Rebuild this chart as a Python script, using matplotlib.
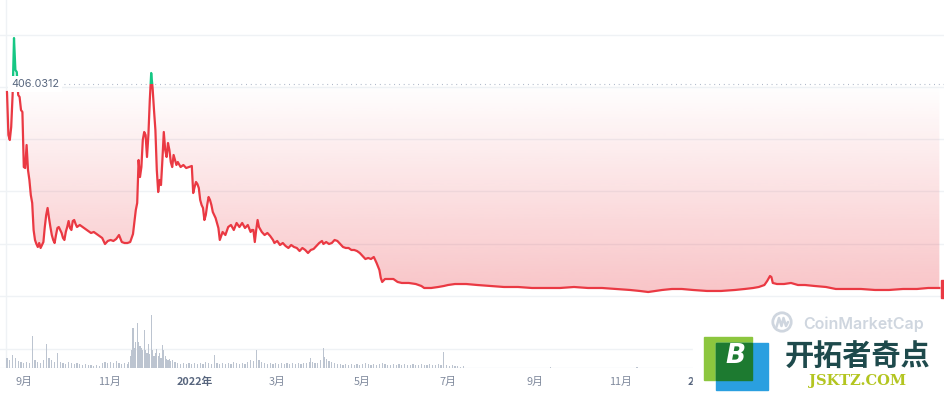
import numpy as np
import pandas as pd
import matplotlib
matplotlib.use("Agg")
import matplotlib.pyplot as plt
import matplotlib.dates as mdates
from matplotlib.patches import Rectangle, Circle
from matplotlib.lines import Line2D

plt.rcParams['font.family'] = ['Noto Sans CJK SC', 'DejaVu Sans']

# ---- data ----
start = pd.Timestamp('2021-08-20')
base_price = 406.0312

price_days = [0, 1, 2, 3, 4, 5, 6, 7, 8, 9, 10, 11, 12, 13, 14, 15, 16, 17, 18, 19,
              20, 21, 22, 23, 24, 25, 26, 27, 28, 29, 30, 31, 32, 33, 34, 35, 36, 37, 38, 39,
              40, 41, 42, 43, 44, 45, 46, 47, 48, 49, 50, 52, 54, 56, 58, 60, 62, 64, 66, 68,
              70, 72, 74, 76, 78, 80, 82, 84, 86, 88, 90, 91, 92, 93, 94, 95, 96, 97, 98, 99,
              100, 101, 102, 103, 104, 105, 106, 107, 108, 109, 110, 111, 112, 113, 114, 115, 116, 117, 118, 119,
              120, 121, 122, 124, 126, 128, 130, 132, 133, 134, 135, 136, 137, 138, 139, 140, 141, 142, 143, 144,
              145, 146, 147, 148, 149, 150, 151, 152, 153, 154, 156, 158, 160, 162, 164, 166, 168, 170, 172, 174,
              175, 176, 177, 178, 179, 180, 182, 184, 186, 188, 190, 191, 193, 195, 197, 199, 201, 203, 205, 207,
              209, 211, 213, 215, 217, 219, 221, 223, 225, 226, 228, 230, 232, 234, 236, 238, 240, 242, 244, 246,
              248, 250, 252, 254, 256, 258, 260, 262, 264, 266, 267, 268, 270, 273, 276, 279, 282, 287, 292, 296,
              298, 303, 308, 312, 315, 320, 328, 336, 345, 355, 365, 375, 385, 395, 405, 415, 425, 435, 445, 452,
              458, 463, 468, 475, 482, 490, 500, 510, 520, 527, 533, 537, 541, 543, 545, 546, 547, 550, 555, 560,
              565, 570, 577, 585, 592, 600, 610, 620, 630, 640, 650, 658, 666]
price = [390.0, 307.8, 298.3, 323.1, 384.3, 493.3, 432.1, 428.3, 384.3, 380.5, 355.6, 351.8, 246.6, 244.7, 288.7, 240.9, 221.8, 193.1, 177.8, 126.2,
         107.1, 99.4, 93.7, 101.3, 91.8, 97.5, 103.2, 131.9, 154.9, 168.3, 149.1, 131.9, 116.6, 107.1, 101.3, 116.6, 130.0, 131.9, 126.2, 120.5,
         110.9, 107.1, 122.4, 131.9, 143.4, 130.0, 126.2, 143.4, 145.3, 137.7, 131.9, 135.8, 131.9, 128.1, 124.3, 120.5, 122.4, 118.5, 114.7, 110.9,
         99.4, 105.2, 107.1, 105.2, 109.0, 116.6, 103.2, 101.3, 101.3, 103.2, 118.5, 141.5, 164.4, 177.8, 260.0, 227.5, 246.6, 298.3, 313.6, 307.8,
         265.8, 307.8, 374.8, 426.4, 397.7, 355.6, 317.4, 240.9, 198.8, 221.8, 212.2, 260.0, 313.6, 279.2, 265.8, 292.5, 279.2, 256.2, 246.6, 269.6,
         260.0, 250.5, 256.2, 246.6, 250.5, 244.7, 246.6, 248.6, 196.9, 208.4, 218.0, 214.1, 206.5, 183.6, 174.0, 168.3, 145.3, 154.9, 174.0, 189.3,
         183.6, 174.0, 160.6, 154.9, 149.1, 139.6, 130.0, 107.1, 114.7, 122.4, 116.6, 131.9, 135.8, 126.2, 139.6, 131.9, 139.6, 130.0, 135.8, 122.4,
         126.2, 126.2, 103.2, 126.2, 145.3, 131.9, 122.4, 116.6, 120.5, 114.7, 107.1, 101.3, 105.2, 97.5, 101.3, 95.6, 91.8, 97.5, 93.7, 91.8,
         86.0, 91.8, 88.0, 82.2, 88.0, 89.9, 95.6, 101.3, 105.2, 99.4, 103.2, 99.4, 101.3, 107.1, 105.2, 99.4, 93.7, 91.8, 91.8, 88.0,
         88.0, 86.0, 82.2, 76.5, 70.7, 72.7, 70.7, 74.6, 63.1, 49.7, 34.4, 26.8, 32.5, 32.5, 32.5, 26.8, 24.9, 24.9, 22.9, 19.1,
         15.3, 15.3, 17.2, 19.1, 21.0, 22.9, 22.9, 21.0, 19.1, 17.2, 17.2, 15.3, 15.3, 15.3, 17.2, 15.3, 15.3, 13.4, 11.5, 9.6,
         7.6, 9.6, 11.5, 13.4, 13.4, 11.5, 9.6, 9.6, 11.5, 13.4, 15.3, 17.2, 21.0, 28.7, 38.2, 36.3, 24.9, 22.9, 22.9, 24.9,
         21.0, 21.0, 19.1, 17.2, 13.4, 13.4, 13.4, 11.5, 11.5, 13.4, 13.4, 15.3, 15.3]
assert len(price_days) == len(price)

vol_days = (list(range(0, 86, 2)) + list(range(86, 119)) + list(range(120, 214, 2))
            + [214, 216, 217, 218, 220, 222, 224, 226, 227, 228, 230, 232, 234, 236]
            + list(range(238, 328, 2)) + [388, 450])
volume = ([10, 8, 13, 10, 7, 6, 5, 6, 5, 32, 8, 6, 5, 8, 24, 10, 8, 6, 15, 6,
           5, 4, 6, 5, 4, 5, 4, 3, 4, 3, 3, 2, 3, 2, 5, 6, 5, 6, 5, 7, 5, 4, 5]
          + [4, 6, 12, 18, 40, 20, 26, 45, 26, 22, 20, 18, 38, 18, 15, 24, 14, 53, 18, 12,
             15, 19, 12, 15, 10, 23, 18, 12, 9, 8, 9, 7, 8]
          + [6, 5, 4, 5, 4, 5, 4, 5, 4, 5, 4, 6, 5, 4, 13, 5, 4, 5, 4, 5, 4, 6, 5, 4, 5,
             4, 6, 8, 7, 18, 8, 6, 5, 4, 5, 4, 5, 4, 5, 4, 5, 4, 5, 4, 5, 4, 5]
          + [5, 6, 10, 6, 5, 5, 8, 20, 11, 9, 7, 6, 5, 4]
          + [4, 3, 4, 3, 4, 3, 4, 3, 4, 5, 4, 3, 4, 3, 4, 5, 4, 3, 3, 4, 3, 4, 3, 4, 3,
             3, 4, 3, 3, 4, 3, 3, 4, 3, 3, 4, 3, 16, 3, 2, 3, 2, 2, 1, 2]
          + [1, 1])
assert len(vol_days) == len(volume)

tick_dates = ['2021-09-01', '2021-11-01', '2022-01-01', '2022-03-01', '2022-05-01',
              '2022-07-01', '2022-09-01', '2022-11-01', '2023-01-01']
tick_labels = ['9月', '11月', '2022年', '3月', '5月', '7月', '9月', '11月', '2023年']

RED = '#ea3943'
GREEN = '#16c784'
GRID = '#eff2f5'
WM = '#cfd6df'

dates = start + pd.to_timedelta(price_days, unit='D')
vdates = start + pd.to_timedelta(vol_days, unit='D')
p = np.array(price)

W, H = 944, 394
fig = plt.figure(figsize=(W / 100, H / 100), dpi=100)
ax = fig.add_axes([0, (H - 368) / H, 1, 368 / H])

x0 = start - pd.Timedelta(days=5)
x1 = start + pd.Timedelta(days=669.3)
ylo, yhi = -137.7, 566

# grid
for g in range(0, 600, 100):
    ax.axhline(g, color=GRID, lw=1, zorder=0)

# gradient fill under the baseline
poly = ax.fill_between(dates, np.minimum(p, base_price), base_price, color='none', lw=0)
img = np.zeros((256, 1, 4))
img[..., :3] = matplotlib.colors.to_rgb(RED)
img[:, 0, 3] = np.linspace(0.30, 0.0, 256)
im = ax.imshow(img, origin='lower', aspect='auto', interpolation='bicubic',
               extent=[mdates.date2num(dates[0]), mdates.date2num(dates[-1]), 0, base_price], zorder=1)
im.set_clip_path(poly.get_paths()[0], transform=ax.transData)
ax.fill_between(dates, base_price, np.maximum(p, base_price), color=GREEN, alpha=0.12, lw=0, zorder=1)

# price line, red below baseline and green above
lo_line, = ax.plot(dates, p, color=RED, lw=1.6, zorder=3, solid_joinstyle='round')
hi_line, = ax.plot(dates, p, color=GREEN, lw=1.6, zorder=3, solid_joinstyle='round')
lo_line.set_clip_path(Rectangle((-1e6, -1e4), 2e6, 1e4 + base_price, transform=ax.transData))
hi_line.set_clip_path(Rectangle((-1e6, base_price), 2e6, 1e4, transform=ax.transData))

# dotted baseline
ax.plot([start + pd.Timedelta(days=41), x1], [base_price, base_price], color='#a6b0c3',
        lw=0.8, dashes=(0.8, 3.5), zorder=2)
fig.text(11 / W, 1 - 84 / H, '406.0312', ha='left', va='center', fontsize=7.8,
         color='#58667e', family=['Inter', 'DejaVu Sans'], zorder=4,
         bbox=dict(fc='white', ec='none', pad=2.5))

ax.set_xlim(x0, x1)
ax.set_ylim(ylo, yhi)
ax.axvline(start - pd.Timedelta(days=0.7), color=GRID, lw=1, zorder=0)

# volume
vax = ax.twinx()
vax.bar(vdates, volume, width=0.75, color='#bcc4d0', lw=0, zorder=2)
vax.axhline(19, color=GRID, lw=1, zorder=0)
vax.axhline(0.3, color=GRID, lw=1, zorder=0)
vax.set_ylim(0, 368)
vax.set_xlim(x0, x1)

for a in (ax, vax):
    for s in a.spines.values():
        s.set_visible(False)
    a.set_yticks([])
ax.set_xticks(pd.to_datetime(tick_dates))
ax.set_xticklabels(tick_labels)
ax.tick_params(axis='x', length=0, pad=6.5, labelsize=7.8, labelcolor='#808a9d')
for lab in ax.get_xticklabels():
    if '年' in lab.get_text():
        lab.set_fontweight('bold')
        lab.set_color('#58667e')

# right edge price tag
fig.patches.append(Rectangle((941 / W, 1 - 298 / H), 3 / W, 18 / H, transform=fig.transFigure,
                             color=RED, zorder=5))

# CoinMarketCap watermark (drawn in inches so the ring stays round)
fig.patches.append(Circle((7.82, (H - 322) / 100), 0.092, transform=fig.dpi_scale_trans,
                          fill=False, ec=WM, lw=2.0, zorder=5))
fig.lines.append(Line2D([7.765, 7.79, 7.815, 7.835, 7.86, 7.88],
                        [(H - 327) / 100, (H - 318) / 100, (H - 326) / 100, (H - 318) / 100,
                         (H - 326) / 100, (H - 322) / 100],
                        transform=fig.dpi_scale_trans, color=WM, lw=1.8, zorder=5,
                        solid_joinstyle='round', solid_capstyle='round'))
fig.text(803 / W, 1 - 324 / H, 'CoinMarketCap', ha='left', va='center', fontsize=11.5,
         color=WM, family=['Inter', 'DejaVu Sans'], fontweight='semibold', zorder=6)

# site logo overlay
def px_rect(l, t, r, b, **kw):
    return Rectangle((l / W, 1 - b / H), (r - l) / W, (b - t) / H, transform=fig.transFigure, **kw)

fig.patches.append(px_rect(693, 336, 944, 394, color='white', zorder=10))
fig.patches.append(px_rect(704, 337, 752, 380, color='#8cc63e', zorder=11))
fig.patches.append(px_rect(716, 343, 768, 390, color='#2a9fe0', zorder=11))
fig.patches.append(px_rect(716, 343, 752, 380, color='#1d7a30', zorder=12))
fig.text(735 / W, 1 - 356 / H, 'B', ha='center', va='center', fontsize=19, color='white',
         fontweight='bold', style='italic', family=['DejaVu Sans'], zorder=13)
fig.text(858 / W, 1 - 357 / H, '开拓者奇点', ha='center', va='center', fontsize=21,
         color='#1e4a4c', fontweight='bold', family=['Noto Sans CJK SC'], zorder=13)
fig.text(858 / W, 1 - 381 / H, 'JSKTZ.COM', ha='center', va='center', fontsize=10.5,
         color='#b3c520', fontweight='bold', family=['DejaVu Serif'], zorder=13)

fig.savefig('out.png', dpi=100, facecolor='white')
